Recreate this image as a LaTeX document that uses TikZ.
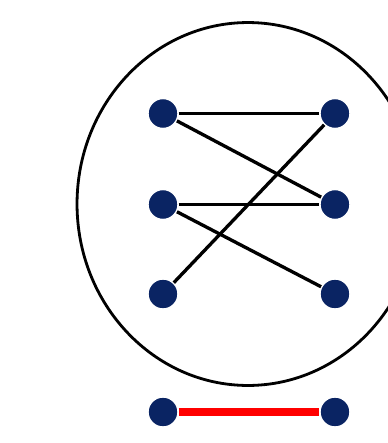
\documentclass[tikz,border=0pt]{standalone}
\usepackage{xcolor}
\usetikzlibrary{shapes.geometric, calc}
\definecolor{vnavy}{RGB}{10,36,99}
\tikzset{
  vert/.style={circle, fill=vnavy, draw=white, line width=0.8pt, minimum size=0.6cm, inner sep=0pt},
  link/.style={color=black, line width=1.9pt, -},
  redlink/.style={color=red, line width=4pt, -}
}

\begin{document}
\begin{tikzpicture}[x=0.02cm, y=-0.02cm]
\useasboundingbox (0,0) rectangle (387,443);
\draw[line width=1.6pt] (248,204) ellipse [x radius=3.42cm, y radius=3.63cm];
\node[vert] (a1) at (163,113.5) {};
\node[vert] (a2) at (163,204.5) {};
\node[vert] (a3) at (163,294) {};
\node[vert] (b1) at (335,113.5) {};
\node[vert] (b2) at (335,204.5) {};
\node[vert] (b3) at (335,294) {};
\node[vert] (c1) at (163,412) {};
\node[vert] (c2) at (335,412) {};
\draw (a1) edge[link] (b1);
\draw (a1) edge[link] (b2);
\draw (a2) edge[link] (b2);
\draw (a2) edge[link] (b3);
\draw (a3) edge[link] (b1);
\draw (c1) edge[redlink] (c2);
\end{tikzpicture}
\end{document}
